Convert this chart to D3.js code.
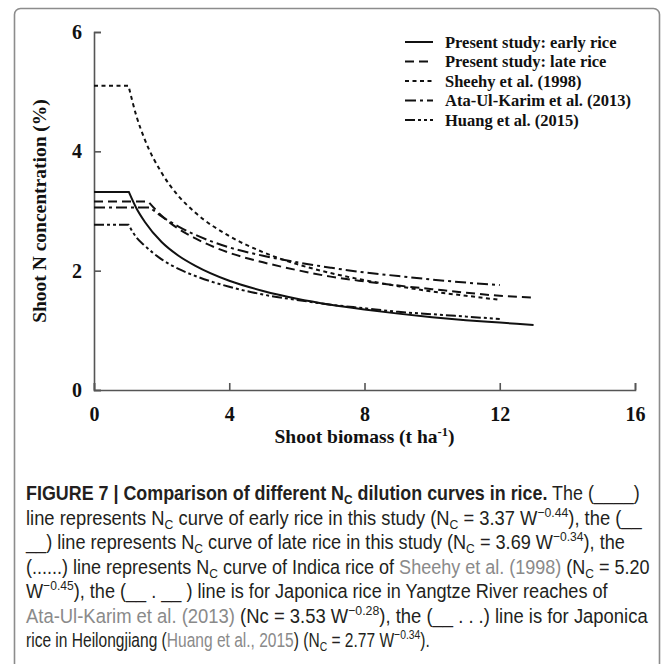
<!DOCTYPE html>
<html>
<head>
<meta charset="utf-8">
<script src="https://cdn.jsdelivr.net/npm/d3@7"></script>
<style>
  body { margin: 0; background: #fff; }
  svg { display: block; }
</style>
</head>
<body>
<div id="chart"></div>
<script>
// curves (biomass t/ha, N %)
var earlyW = [0, 1.03, 1.25, 1.5, 2, 2.5, 3, 4, 5, 6, 7, 8, 9, 10, 11, 12, 13];
var earlyN = [3.32, 3.32, 3.05, 2.82, 2.48, 2.25, 2.08, 1.83, 1.66, 1.53, 1.43, 1.35, 1.28, 1.22, 1.17, 1.13, 1.09];
var lateW = [0, 1.6, 2, 2.5, 3, 4, 5, 6, 7, 8, 9, 10, 11, 12, 13];
var lateN = [3.16, 3.16, 2.92, 2.70, 2.54, 2.30, 2.14, 2.01, 1.90, 1.82, 1.75, 1.69, 1.63, 1.58, 1.55];
var sheehyW = [0, 1.02, 1.25, 1.5, 2, 2.5, 3, 4, 5, 6, 7, 8, 9, 10, 11, 12];
var sheehyN = [5.1, 5.1, 4.6, 4.2, 3.64, 3.25, 2.97, 2.58, 2.31, 2.11, 1.96, 1.84, 1.74, 1.65, 1.58, 1.51];
var ataW = [0, 1.65, 2, 2.5, 3, 4, 5, 6, 7, 8, 9, 10, 11, 12];
var ataN = [3.06, 3.06, 2.91, 2.74, 2.60, 2.39, 2.25, 2.14, 2.05, 1.97, 1.91, 1.85, 1.80, 1.76];
var huangW = [0, 1.02, 1.25, 1.5, 2, 2.5, 3, 4, 5, 6, 7, 8, 9, 10, 11, 12];
var huangN = [2.77, 2.77, 2.56, 2.42, 2.19, 2.03, 1.91, 1.73, 1.60, 1.51, 1.43, 1.37, 1.31, 1.27, 1.23, 1.19];

var seriesNames = ['Present study: early rice', 'Present study: late rice', 'Sheehy et al. (1998)',
    'Ata-Ul-Karim et al. (2013)', 'Huang et al. (2015)'];
var xTicks = [0, 4, 8, 12, 16];
var yTicks = [0, 2, 4, 6];

// caption lines: [text, style] pieces; b = bold, sub/sup, g = grey link
var captionLines = [
    [['FIGURE 7 | Comparison of different N', 'b'], ['C', 'b sub'], [' dilution curves in rice.', 'b'], [' The (____)', '']],
    [['line represents N', ''], ['C', 'sub'], [' curve of early rice in this study (N', ''], ['C', 'sub'], [' = 3.37 W', ''], ['\u22120.44', 'sup'], ['), the (__', '']],
    [['__) line represents N', ''], ['C', 'sub'], [' curve of late rice in this study (N', ''], ['C', 'sub'], [' = 3.69 W', ''], ['\u22120.34', 'sup'], ['), the', '']],
    [['(......) line represents N', ''], ['C', 'sub'], [' curve of Indica rice of ', ''], ['Sheehy et al. (1998)', 'g'], [' (N', ''], ['C', 'sub'], [' = 5.20', '']],
    [['W', ''], ['\u22120.45', 'sup'], ['), the (__ . __ ) line is for Japonica rice in Yangtze River reaches of', '']],
    [['Ata-Ul-Karim et al. (2013)', 'g'], [' (Nc = 3.53 W', ''], ['\u22120.28', 'sup'], ['), the (__ . . .) line is for Japonica', '']],
    [['rice in Heilongjiang (', ''], ['Huang et al., 2015', 'g'], [') (N', ''], ['C', 'sub'], [' = 2.77 W', ''], ['\u22120.34', 'sup'], [').', '']]
];
var captionWidths = [614, 616, 599, 624, 582, 622, 404];

var W = 669, H = 664;
var margin = { top: 32, right: 34, bottom: 274, left: 94 },
    width = W - margin.left - margin.right,
    height = H - margin.top - margin.bottom;

var svg = d3.select('#chart').append('svg')
    .attr('width', W)
    .attr('height', H);

// panel frame
svg.append('rect')
    .attr('x', 14.5).attr('y', 8.5)
    .attr('width', 645).attr('height', 720)
    .attr('rx', 6)
    .attr('fill', 'none')
    .attr('stroke', '#8c8c8c')
    .attr('stroke-width', 1.6);

var g = svg.append('g')
    .attr('transform', 'translate(' + margin.left + ',' + margin.top + ')');

var x = d3.scaleLinear().domain([0, 16]).range([0, width]);
var y = d3.scaleLinear().domain([0, 6]).range([height, 0]);

var serif = '"Liberation Serif", "Times New Roman", serif';

// axes, ticks pointing into the plot
var xAxis = g.append('g')
    .attr('transform', 'translate(0,' + height + ')')
    .call(d3.axisBottom(x).tickValues(xTicks).tickFormat(d3.format('d'))
        .tickSizeInner(-7).tickSizeOuter(-7).tickPadding(17));
var yAxis = g.append('g')
    .call(d3.axisLeft(y).tickValues(yTicks).tickFormat(d3.format('d'))
        .tickSizeInner(-7).tickSizeOuter(-7).tickPadding(12));

[xAxis, yAxis].forEach(function (a) {
    a.select('.domain').attr('stroke', '#555').attr('stroke-width', 1.6);
    a.selectAll('.tick line').attr('stroke', '#555').attr('stroke-width', 1.6);
    a.selectAll('.tick text')
        .attr('fill', '#111')
        .style('font-family', serif)
        .style('font-weight', 'bold')
        .style('font-size', '20px');
});

// axis titles
var xTitle = g.append('text')
    .attr('x', width / 2)
    .attr('y', height + 53)
    .attr('text-anchor', 'middle')
    .style('font-family', serif)
    .style('font-weight', 'bold')
    .style('font-size', '19.5px')
    .attr('fill', '#111');
xTitle.append('tspan').text('Shoot biomass (t ha');
xTitle.append('tspan').attr('dy', -7).style('font-size', '12.5px').text('-1');
xTitle.append('tspan').attr('dy', 7).text(')');

g.append('text')
    .attr('transform', 'translate(-48,' + (height / 2) + ') rotate(-90)')
    .attr('text-anchor', 'middle')
    .style('font-family', serif)
    .style('font-weight', 'bold')
    .style('font-size', '19.5px')
    .attr('fill', '#111')
    .text('Shoot N concentration (%)');

// curves
var series = [
    { w: earlyW, n: earlyN, dash: null },
    { w: lateW, n: lateN, dash: '9,5' },
    { w: sheehyW, n: sheehyN, dash: '4,3.5' },
    { w: ataW, n: ataN, dash: '11,4,3,4' },
    { w: huangW, n: huangN, dash: '10,3,3,3,3,3' }
];

var flat = d3.line()
    .x(function (d) { return x(d[0]); })
    .y(function (d) { return y(d[1]); });
var decay = d3.line()
    .x(function (d) { return x(d[0]); })
    .y(function (d) { return y(d[1]); })
    .curve(d3.curveMonotoneX);

series.forEach(function (s) {
    var pts = s.w.map(function (w, i) { return [w, s.n[i]]; });
    // sharp corner at the end of the plateau, smooth decline after it
    var d = flat(pts.slice(0, 2)) + 'L' + decay(pts.slice(1)).slice(1);
    g.append('path')
        .attr('d', d)
        .attr('fill', 'none')
        .attr('stroke', '#111')
        .attr('stroke-width', 2)
        .attr('stroke-dasharray', s.dash);
});

// legend
var legend = svg.append('g').attr('transform', 'translate(405,42)');
seriesNames.forEach(function (name, i) {
    var row = legend.append('g').attr('transform', 'translate(0,' + (i * 19.5) + ')');
    row.append('line')
        .attr('x1', 0).attr('x2', 28)
        .attr('stroke', '#111')
        .attr('stroke-width', 2)
        .attr('stroke-dasharray', series[i].dash);
    row.append('text')
        .attr('x', 40)
        .attr('dy', '0.35em')
        .style('font-family', serif)
        .style('font-weight', 'bold')
        .style('font-size', '16.5px')
        .attr('fill', '#111')
        .text(name);
});

// caption: each line squeezed horizontally to the narrow journal face
var cap = svg.append('g')
    .style('font-family', '"Liberation Sans", Arial, sans-serif')
    .style('font-size', '19.5px');

captionLines.forEach(function (line, i) {
    var row = cap.append('g');
    var t = row.append('text')
        .attr('fill', '#231f20');
    var shift = 0;
    line.forEach(function (p) {
        var st = p[1].split(' ');
        var isSub = st.indexOf('sub') >= 0, isSup = st.indexOf('sup') >= 0;
        var target = isSub ? 4 : (isSup ? -8 : 0);
        var ts = t.append('tspan').attr('dy', target - shift).text(p[0]);
        shift = target;
        if (st.indexOf('b') >= 0) ts.style('font-weight', 'bold');
        if (isSub || isSup) ts.style('font-size', '13px');
        if (st.indexOf('g') >= 0) ts.attr('fill', '#8a8a8a');
    });
    var natural = t.node().getComputedTextLength();
    row.attr('transform', 'translate(26,' + (500 + i * 24.5) + ') scale(' +
        (captionWidths[i] / natural) + ',1)');
});
</script>
</body>
</html>
